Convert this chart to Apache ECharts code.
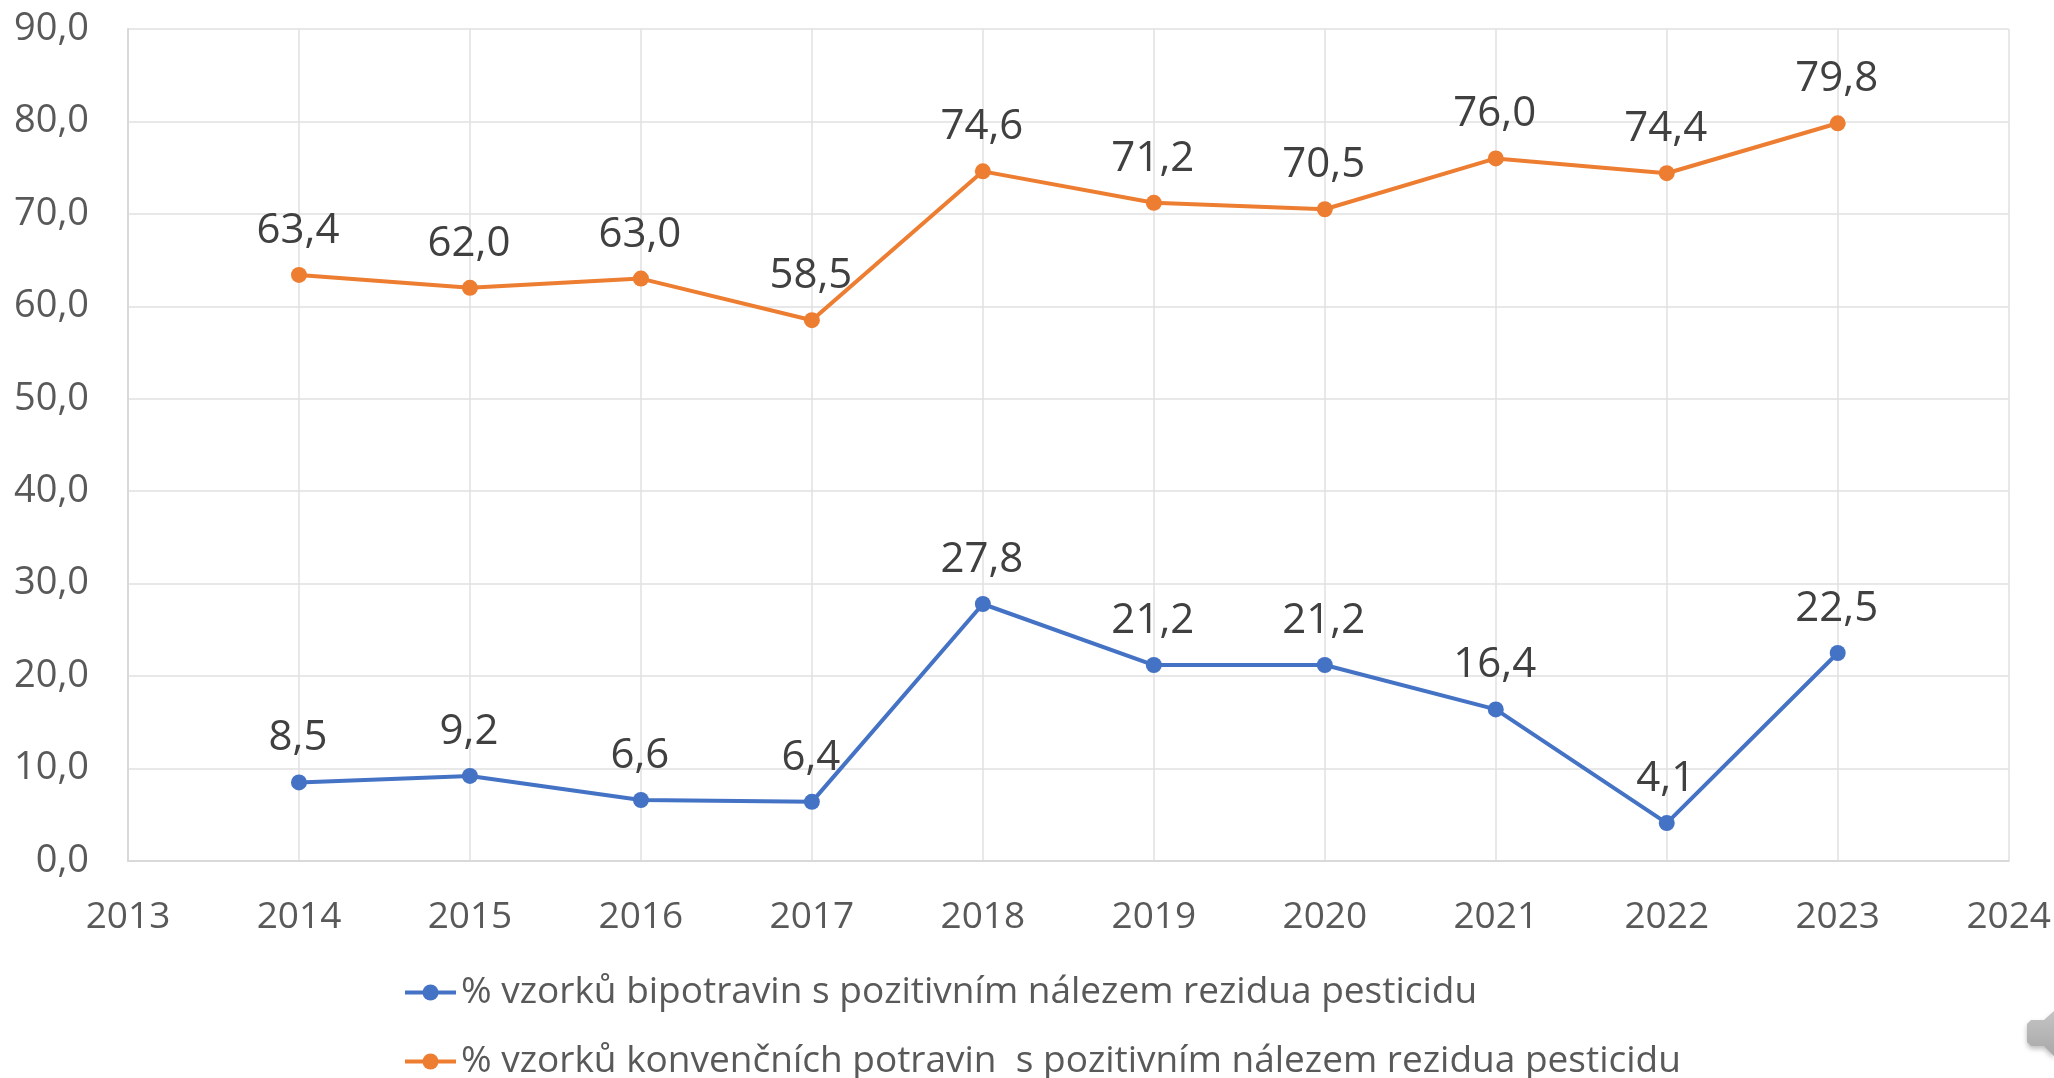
<!DOCTYPE html>
<html>
<head>
<meta charset="utf-8">
<title>Rezidua pesticidu</title>
<script src="https://cdn.jsdelivr.net/npm/echarts@6/dist/echarts.min.js"></script>
<style>
    html, body { margin: 0; padding: 0; background: #fff; }
    #chart { width: 2054px; height: 1078px; }
</style>
</head>
<body>
<div id="chart"></div>
<script>
var years = [2014, 2015, 2016, 2017, 2018, 2019, 2020, 2021, 2022, 2023];
var bioValues = [8.5, 9.2, 6.6, 6.4, 27.8, 21.2, 21.2, 16.4, 4.1, 22.5];
var convValues = [63.4, 62.0, 63.0, 58.5, 74.6, 71.2, 70.5, 76.0, 74.4, 79.8];
var bioName = '% vzorků bipotravin s pozitivním nálezem rezidua pesticidu';
var convName = '% vzorků konvenčních potravin  s pozitivním nálezem rezidua pesticidu';

var fontName = '"Open Sans"';

function comma(v) {
    return v.toFixed(1).replace('.', ',');
}

function pairs(values) {
    return years.map(function (y, i) { return [y, values[i]]; });
}

function lineSeries(name, values, color) {
    return {
        name: name,
        type: 'line',
        data: pairs(values),
        symbol: 'circle',
        symbolSize: 16,
        lineStyle: { color: color, width: 4 },
        itemStyle: { color: color },
        label: {
            show: true,
            position: 'top',
            distance: 15,
            offset: [-1, 0],
            fontFamily: fontName,
            fontSize: 42,
            color: '#404040',
            formatter: function (p) { return comma(p.value[1]); }
        }
    };
}

var chart = echarts.init(document.getElementById('chart'));
chart.setOption({
    animation: false,
    backgroundColor: '#fff',
    grid: { left: 128, right: 45, top: 29, bottom: 217 },
    legend: {
        orient: 'vertical',
        left: 398,
        top: 969,
        height: 200,
        itemWidth: 51,
        itemHeight: 20,
        itemGap: 32,
        lineStyle: { width: 4 },
        textStyle: { fontFamily: fontName, fontSize: 37, color: '#595959' },
        data: [bioName, convName]
    },
    xAxis: {
        type: 'value',
        min: 2013,
        max: 2024,
        interval: 1,
        axisLine: { show: true, onZero: false, lineStyle: { color: '#d9d9d9', width: 2 } },
        axisTick: { show: false },
        axisLabel: {
            margin: 38,
            fontFamily: fontName,
            fontSize: 37,
            color: '#595959',
            formatter: function (v) { return String(v); }
        },
        splitLine: { show: true, lineStyle: { color: '#e0e0e0', width: 1.5 } }
    },
    yAxis: {
        type: 'value',
        min: 0,
        max: 90,
        interval: 10,
        axisLine: { show: true, lineStyle: { color: '#d9d9d9', width: 2 } },
        axisTick: { show: false },
        axisLabel: {
            margin: 39,
            fontFamily: fontName,
            fontSize: 38,
            color: '#595959',
            formatter: function (v) { return comma(v); }
        },
        splitLine: { show: true, lineStyle: { color: '#e0e0e0', width: 1.5 } }
    },
    series: [
        lineSeries(bioName, bioValues, '#4472c4'),
        lineSeries(convName, convValues, '#ed7d31')
    ],
    // speaker icon cut off at the corner of the slide
    graphic: [{
        type: 'polygon',
        shape: { points: [[2031, 1020], [2044, 1020], [2054, 1011], [2054, 1056], [2044, 1046], [2031, 1046], [2027, 1042], [2027, 1024]] },
        style: {
            fill: new echarts.graphic.LinearGradient(0, 0, 0, 1, [
                { offset: 0, color: '#c4c4c4' },
                { offset: 1, color: '#a8a8a8' }
            ]),
            shadowBlur: 5,
            shadowOffsetY: 3,
            shadowColor: 'rgba(0,0,0,0.25)'
        }
    }]
});
</script>
</body>
</html>
